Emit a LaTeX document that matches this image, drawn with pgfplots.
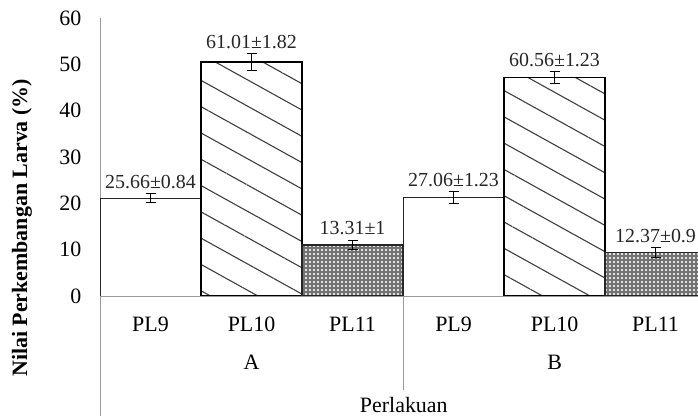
\documentclass[border=0pt]{standalone}
\usepackage{fontspec}
\setmainfont{Liberation Serif}
\usepackage{pgfplots}
\pgfplotsset{compat=1.18}
\usepackage{pgfplotstable}
\usetikzlibrary{patterns,patterns.meta}

\pgfplotstableread{
x y e t lab
0 21.1 1.0 22.1 25.66±0.84
3 21.2 1.3 22.5 27.06±1.23
}\plnine
\pgfplotstableread{
x y e t lab
1 50.5 1.8 52.3 61.01±1.82
4 47.1 1.3 48.4 60.56±1.23
}\plten
\pgfplotstableread{
x y e t lab
2 11.0 1.0 12.0 13.31±1
5 9.4 1.0 10.4 12.37±0.9
}\pleleven

\begin{document}
\begin{tikzpicture}
\begin{axis}[
  at={(100bp,120bp)}, anchor=south west,
  scale only axis, width=598bp, height=278bp,
  xmin=-0.5, xmax=5.42, ymin=0, ymax=60,
  enlargelimits=false,
  axis lines=left,
  axis line style={-, draw=black!40, line width=0.9bp},
  tick style={draw=none},
  xtick={0,...,5}, xticklabels={PL9,PL10,PL11,PL9,PL10,PL11},
  ytick={0,10,...,60},
  /pgf/number format/assume math mode=true,
  tick label style={font=\fontsize{22}{26}\selectfont},
  yticklabel style={xshift=-13bp},
  xticklabel style={yshift=-15bp},
  clip mode=individual,
  xlabel={Perlakuan},
  every axis x label/.style={at={(rel axis cs:0.508,-0.392)}, anchor=center, font=\fontsize{22}{26}\selectfont},
  ylabel={Nilai Perkembangan Larva (\%)},
  every axis y label/.style={at={(rel axis cs:-0.1304,0.245)}, anchor=center, rotate=90, font=\bfseries\fontsize{22}{26}\selectfont},
  error bars/error bar style={black, line width=1bp},
  error bars/error mark options={rotate=90, mark size=5bp, line width=1bp, black},
]
\addplot[ybar, bar width=1, bar shift=0pt, draw=black!85, line width=1bp, fill=white,
  error bars/.cd, y dir=both, y explicit]
  table[x=x, y=y, y error=e] {\plnine};
\addplot[ybar, bar width=1, bar shift=0pt, draw=black, line width=1.3bp, fill=white,
  postaction={pattern={Lines[angle=-29, distance=23bp, line width=1.1bp]}, pattern color=black!75},
  error bars/.cd, y dir=both, y explicit]
  table[x=x, y=y, y error=e] {\plten};
\addplot[ybar, bar width=1, bar shift=0pt, draw=black!85, line width=1.2bp, fill=black!12,
  postaction={pattern={Hatch[angle=0, distance=4bp, line width=1.7bp]}, pattern color=black!55},
  error bars/.cd, y dir=both, y explicit]
  table[x=x, y=y, y error=e] {\pleleven};
\addplot[only marks, mark=none, nodes near coords, point meta=explicit symbolic,
  every node near coord/.append style={anchor=center, yshift=12bp, font=\fontsize{20}{24}\selectfont, text=black!85}]
  table[x=x, y=t, meta=lab] {\plnine};
\addplot[only marks, mark=none, nodes near coords, point meta=explicit symbolic,
  every node near coord/.append style={anchor=center, yshift=12bp, font=\fontsize{20}{24}\selectfont, text=black!85}]
  table[x=x, y=t, meta=lab] {\plten};
\addplot[only marks, mark=none, nodes near coords, point meta=explicit symbolic,
  every node near coord/.append style={anchor=center, yshift=12bp, font=\fontsize{20}{24}\selectfont, text=black!85}]
  table[x=x, y=t, meta=lab] {\pleleven};
\coordinate (gA) at (axis cs:1,0);
\coordinate (gB) at (axis cs:4,0);
\coordinate (sep) at (axis cs:2.5,0);
\coordinate (orig) at (axis cs:-0.5,0);
\end{axis}
\draw[black!40, line width=0.9bp] (sep) -- ++(0,-94bp);
\draw[black!40, line width=0.9bp] (orig) -- ++(0,-130bp);
\node[font=\fontsize{22}{26}\selectfont, anchor=center] at ([yshift=-66bp]gA) {A};
\node[font=\fontsize{22}{26}\selectfont, anchor=center] at ([yshift=-66bp]gB) {B};
\pgfresetboundingbox
\path[use as bounding box] (0,0) rectangle (698bp,416bp);
\end{tikzpicture}
\end{document}
